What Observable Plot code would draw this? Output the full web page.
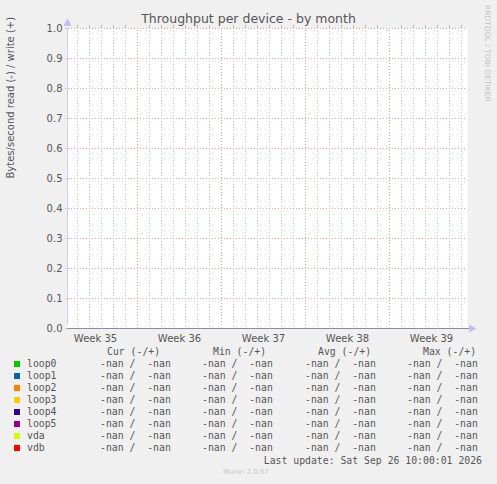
<!DOCTYPE html>
<html>
<head>
<meta charset="utf-8">
<script src="https://cdn.jsdelivr.net/npm/d3@7"></script>
<script src="https://cdn.jsdelivr.net/npm/@observablehq/plot@0.6"></script>
<style>
  html, body { margin: 0; padding: 0; background: #f0f0f0; }
  #wrap { position: relative; width: 497px; height: 484px; background: #f0f0f0; overflow: hidden; font-family: "DejaVu Sans", sans-serif; }
  #chart { position: absolute; left: 0; top: 0; }
  .abs { position: absolute; white-space: pre; line-height: 1; }
  .mono { font-family: "DejaVu Sans Mono", monospace; font-size: 9.8px; color: #555; }
</style>
</head>
<body>
<div id="wrap">
  <div id="chart"></div>
</div>
<script>
// ---- data ----
const title = "Throughput per device - by month";
const yLabel = "Bytes/second read (-) / write (+)";
const seriesNames = ["loop0", "loop1", "loop2", "loop3", "loop4", "loop5", "vda", "vdb"];
const seriesColors = ["#00cc00", "#0066b3", "#ff8000", "#ffcc00", "#330099", "#990099", "#ccff00", "#ff0000"];
const curValues = ["-nan /  -nan", "-nan /  -nan", "-nan /  -nan", "-nan /  -nan", "-nan /  -nan", "-nan /  -nan", "-nan /  -nan", "-nan /  -nan"];
const minValues = ["-nan /  -nan", "-nan /  -nan", "-nan /  -nan", "-nan /  -nan", "-nan /  -nan", "-nan /  -nan", "-nan /  -nan", "-nan /  -nan"];
const avgValues = ["-nan /  -nan", "-nan /  -nan", "-nan /  -nan", "-nan /  -nan", "-nan /  -nan", "-nan /  -nan", "-nan /  -nan", "-nan /  -nan"];
const maxValues = ["-nan /  -nan", "-nan /  -nan", "-nan /  -nan", "-nan /  -nan", "-nan /  -nan", "-nan /  -nan", "-nan /  -nan", "-nan /  -nan"];
const columnHeaders = ["Cur (-/+)", "Min (-/+)", "Avg (-/+)", "Max (-/+)"];
const yTicks = [0, 0.1, 0.2, 0.3, 0.4, 0.5, 0.6, 0.7, 0.8, 0.9, 1.0];
const weekLabels = ["Week 35", "Week 36", "Week 37", "Week 38", "Week 39"];
const weekStarts = ["2026-08-24", "2026-08-31", "2026-09-07", "2026-09-14", "2026-09-21"];
const timeStart = "2026-08-25T04:00:00Z";
const timeEnd = "2026-09-27T12:00:00Z";
const lastUpdate = "Last update: Sat Sep 26 10:00:01 2026";
const version = "Munin 2.0.57";
const watermark = "RRDTOOL / TOBI OETIKER";

// ---- derived ----
const t0 = new Date(timeStart), t1 = new Date(timeEnd);
const weekStartDates = weekStarts.map(s => new Date(s + "T00:00:00Z"));
const weekLines = weekStartDates.filter(d => d > t0 && d < t1);
const dayLines = d3.utcDay.range(t0, t1).filter(d => d.getUTCDay() !== 1);
const weekMids = weekStartDates.map((d, i) => ({label: weekLabels[i], x: new Date(+d + 3.5 * 864e5)}));
// series are all NaN (no data to draw)
const seriesData = seriesNames.flatMap(name => [{name, t: t0, v: NaN}, {name, t: t1, v: NaN}]);

const font = "DejaVu Sans, sans-serif";
const chart = Plot.plot({
  width: 497,
  height: 350,
  marginLeft: 67,
  marginRight: 30,
  marginTop: 28,
  marginBottom: 22,
  style: {background: "transparent", fontFamily: font, fontSize: "10px", color: "#555", overflow: "visible"},
  x: {type: "utc", domain: [t0, t1], axis: null},
  y: {domain: [0, 1], axis: null},
  color: {domain: seriesNames, range: seriesColors},
  marks: [
    Plot.frame({fill: "white", stroke: null}),
    // minor daily grid
    Plot.ruleX(dayLines, {x: d => d, stroke: "#c8c8c8", strokeDasharray: "1,2", strokeWidth: 1}),
    Plot.ruleX(dayLines, {x: d => d, y1: 1, y2: 1, insetTop: -3, stroke: "#bbb"}),
    // major horizontal grid
    Plot.ruleY(yTicks, {y: d => d, x1: t0, x2: t1, insetLeft: -2, stroke: "#f4a0a0", strokeDasharray: "1,2"}),
    // major weekly grid
    Plot.ruleX(weekLines, {x: d => d, y1: 0, y2: 1, insetTop: -3, stroke: "#f4a0a0", strokeDasharray: "1,2"}),
    // series (all nan)
    Plot.line(seriesData, {x: "t", y: "v", z: "name", stroke: "name"}),
    // axes lines
    Plot.ruleX([t0], {y1: 0, y2: 1, insetTop: -4, stroke: "#ccccee"}),
    Plot.ruleY([0], {x1: t0, x2: t1, insetRight: -2, stroke: "#8a8ab0"}),
    // arrows
    Plot.dot([{x: t0, y: 1}], {x: "x", y: "y", symbol: "triangle", r: 3, dy: -5, fill: "#b8c0f0", stroke: null}),
    Plot.dot([{x: t1, y: 0}], {x: "x", y: "y", symbol: "triangle", r: 3, dx: 4, rotate: 90, fill: "#b8c0f0", stroke: null}),
    // y tick labels
    Plot.text(yTicks, {x: t0, y: d => d, text: d => d.toFixed(1), textAnchor: "end", dx: -5, fill: "#555", fontSize: 10}),
    // x labels
    Plot.text(weekMids, {x: "x", y: 0, text: "label", dy: 10, fill: "#555", fontSize: 10}),
    // y label
    Plot.text([yLabel], {frameAnchor: "left", dx: -57, rotate: -90, fill: "#555", fontSize: 10})
  ]
});
document.getElementById("chart").appendChild(chart);

const wrap = document.getElementById("wrap");
function add(text, css, cls) {
  const d = document.createElement("div");
  d.className = "abs " + (cls || "");
  d.textContent = text;
  Object.assign(d.style, css);
  wrap.appendChild(d);
  return d;
}
// title
add(title, {left: "0px", width: "497px", textAlign: "center", top: "13px", fontSize: "12.5px", color: "#555"});
// watermark
add(watermark, {left: "483px", top: "5px", fontSize: "7.5px", color: "#c4c4c4", writingMode: "vertical-rl"});
// legend headers
const headerX = [107, 213, 318, 423];
columnHeaders.forEach((h, i) => add(h, {left: headerX[i] + "px", top: "347px"}, "mono"));
const colX = [100, 202, 305, 407];
const cols = [curValues, minValues, avgValues, maxValues];
seriesNames.forEach((name, i) => {
  const y = 359 + i * 12;
  const sw = document.createElement("div");
  Object.assign(sw.style, {position: "absolute", left: "14px", top: (y + 2) + "px", width: "6px", height: "6px", background: seriesColors[i]});
  wrap.appendChild(sw);
  add(name, {left: "27px", top: y + "px"}, "mono");
  cols.forEach((c, j) => add(c[i], {left: colX[j] + "px", top: y + "px"}, "mono"));
});
add(lastUpdate, {right: "15px", top: "456px"}, "mono");
add(version, {left: "223px", top: "469px", fontSize: "7px", color: "#c8c8c8"});
</script>
</body>
</html>
